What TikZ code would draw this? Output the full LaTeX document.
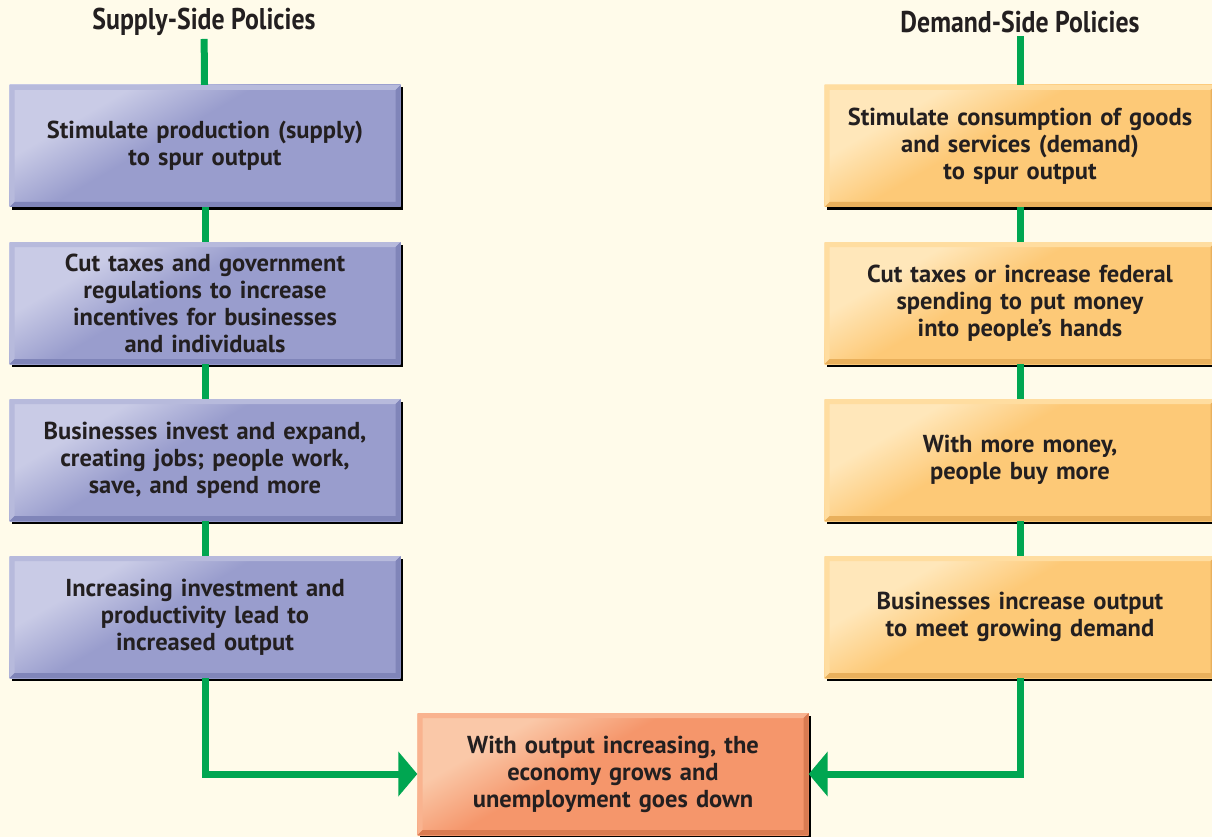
\documentclass[tikz,border=0pt]{standalone}
\usepackage{fontspec}
\setmainfont{PT Sans}
\newfontfamily\titlefont{PT Sans}[FakeStretch=0.86]
\usetikzlibrary{shapes,arrows,arrows.meta,positioning,calc,shadows}

\definecolor{paper}{HTML}{FFFBEA}
\definecolor{ink}{HTML}{231F20}
\definecolor{flowgreen}{HTML}{00A651}
\definecolor{supplymain}{HTML}{999DCD}
\definecolor{supplylt}{HTML}{C9CBE6}
\definecolor{supplyhi}{HTML}{B7BADC}
\definecolor{supplydk}{HTML}{8085B9}
\definecolor{demandmain}{HTML}{FDC977}
\definecolor{demandlt}{HTML}{FFE7BA}
\definecolor{demandhi}{HTML}{FFDDA0}
\definecolor{demanddk}{HTML}{E9B05C}
\definecolor{outmain}{HTML}{F5966B}
\definecolor{outlt}{HTML}{FAC8A8}
\definecolor{outhi}{HTML}{F9B38F}
\definecolor{outdk}{HTML}{D97B51}

\pgfdeclarehorizontalshading{supplyglow}{100bp}{color(0bp)=(supplylt); color(30bp)=(supplylt); color(44bp)=(supplymain); color(100bp)=(supplymain)}
\pgfdeclarehorizontalshading{demandglow}{100bp}{color(0bp)=(demandlt); color(30bp)=(demandlt); color(44bp)=(demandmain); color(100bp)=(demandmain)}
\pgfdeclarehorizontalshading{outglow}{100bp}{color(0bp)=(outlt); color(30bp)=(outlt); color(44bp)=(outmain); color(100bp)=(outmain)}

% raised edge: light top/left, dark bottom/right
\tikzset{bevel/.style 2 args={path picture={
  \fill[#1] (path picture bounding box.north west) -- (path picture bounding box.north east)
    -- ([shift={(-5pt,-5pt)}]path picture bounding box.north east) -- ([shift={(5pt,-5pt)}]path picture bounding box.north west)
    -- ([shift={(5pt,5pt)}]path picture bounding box.south west) -- (path picture bounding box.south west) -- cycle;
  \fill[#2] (path picture bounding box.south east) -- (path picture bounding box.north east)
    -- ([shift={(-5pt,-5pt)}]path picture bounding box.north east) -- ([shift={(-5pt,5pt)}]path picture bounding box.south east)
    -- ([shift={(5pt,5pt)}]path picture bounding box.south west) -- (path picture bounding box.south west) -- cycle;
}}}

\begin{document}
\begin{tikzpicture}[x=1pt, y=-1pt, node distance=157pt, auto, font=\bfseries\fontsize{24.5}{27}\selectfont]
\tikzstyle{block} = [rectangle, minimum width=391pt, minimum height=122pt, text width=385pt, align=center, inner sep=0pt, text=ink, shading angle=-60, drop shadow={shadow xshift=2.5pt, shadow yshift=-2.5pt, fill=black, opacity=1}]
\tikzstyle{supply} = [block, shading=supplyglow, bevel={supplyhi}{supplydk}]
\tikzstyle{demand} = [block, shading=demandglow, bevel={demandhi}{demanddk}]
\tikzstyle{result} = [block, shading=outglow, bevel={outhi}{outdk}]
\tikzstyle{title} = [font=\titlefont\bfseries\fontsize{30}{32}\selectfont, text=ink, inner sep=3pt]
\tikzstyle{line} = [draw, flowgreen, line width=7pt]
\tikzstyle{arrow} = [line, -{Triangle[length=19pt, width=44pt]}]

\fill[paper] (0,0) rectangle (1212,837);
\path[use as bounding box] (0,0) rectangle (1212,837);

\node [title] (stitle) at (204,22) {Supply-Side Policies};
\node [title] (dtitle) at (1020,22) {Demand-Side Policies};

\node [supply] (s1) at (205,146) {Stimulate production (supply)\\to spur output};
\node [supply, below of=s1] (s2) {Cut taxes and government\\regulations to increase\\incentives for businesses\\and individuals};
\node [supply, below of=s2] (s3) {Businesses invest and expand,\\creating jobs; people work,\\save, and spend more};
\node [supply, below of=s3] (s4) {Increasing investment and\\productivity lead to\\increased output};

\node [demand] (d1) at (1020,146) {Stimulate consumption of goods\\and services (demand)\\to spur output};
\node [demand, below of=d1] (d2) {Cut taxes or increase federal\\spending to put money\\into people’s hands};
\node [demand, below of=d2] (d3) {With more money,\\people buy more};
\node [demand, below of=d3] (d4) {Businesses increase output\\to meet growing demand};

\node [result] (out) at (613,774) {With output increasing, the\\economy grows and\\unemployment goes down};

\path [line] (stitle) -- (s1);
\path [line] (s1) -- (s2);
\path [line] (s2) -- (s3);
\path [line] (s3) -- (s4);
\path [arrow] (s4) |- (out);

\path [line] (dtitle) -- (d1);
\path [line] (d1) -- (d2);
\path [line] (d2) -- (d3);
\path [line] (d3) -- (d4);
\path [arrow] (d4) |- (out);
\end{tikzpicture}
\end{document}
